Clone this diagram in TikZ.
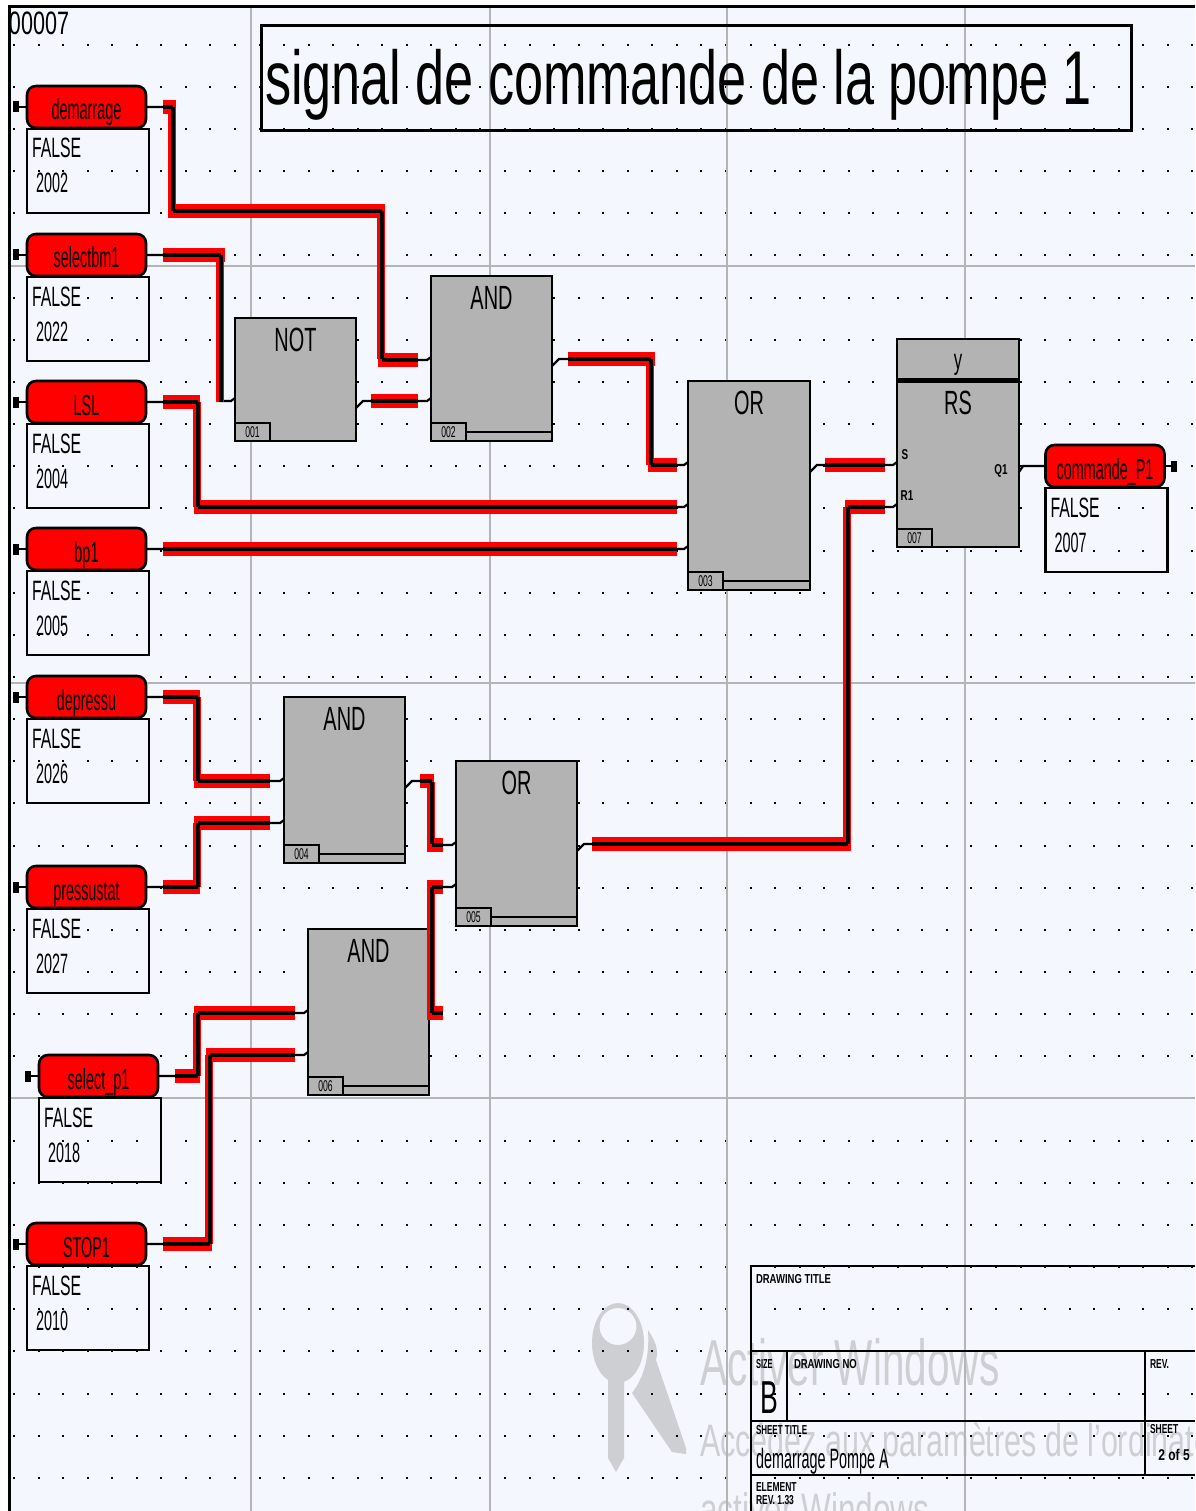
\documentclass[tikz,border=0pt]{standalone}
\usepackage{fontspec}
\setmainfont{Liberation Sans}
\usetikzlibrary{calc}
\pgfdeclarelayer{redband}
\pgfdeclarelayer{corewire}
\pgfsetlayers{main,redband,corewire}
\definecolor{sheet}{HTML}{F4F7FD}
\definecolor{blockgray}{HTML}{B3B3B3}
\definecolor{rule}{HTML}{B4B4B4}
\definecolor{wmark}{HTML}{CDCFD2}
\newcommand\tx[4]{\scalebox{#2}[#3]{\fontsize{#1}{#1}\selectfont #4}}
\tikzset{
  pill/.style={rectangle,rounded corners=9pt,
    draw=black,line width=2.6pt,fill=red,minimum width=119pt,minimum height=42pt,inner sep=0pt,outer sep=0pt,
    text height=30pt,text depth=4pt},
  tagbox/.style={rectangle,draw=black,line width=2.6pt,minimum width=122pt,minimum height=84pt,inner sep=0pt,outer sep=0pt,anchor=north west},
  term/.style={rectangle,fill=black,minimum width=6pt,minimum height=11pt,inner sep=0pt,outer sep=0pt},
  blockbox/.style={rectangle,draw=black,line width=2.6pt,fill=blockgray,inner sep=0pt,outer sep=0pt,anchor=north west},
  idbox/.style={rectangle,draw=black,line width=2.4pt,fill=blockgray,minimum width=35pt,minimum height=18pt,inner sep=0pt,outer sep=0pt,anchor=south west},
  txt/.style={inner sep=0pt,outer sep=0pt},
  conn/.style={draw=black,line width=2.2pt},
  bandh/.style={draw=red,line width=14pt},
  bandv/.style={draw=red,line width=8pt},
  core/.style={draw=black,line width=3.6pt,line cap=square},
  frameline/.style={draw=black,line width=2.6pt},
}
% horizontal band: red from #1 to #2, black core from #3 to #4, at the height of #5
\newcommand\hb[5]{%
  \begin{pgfonlayer}{redband}\draw[bandh] (#1,0 |- #5) -- (#2,0 |- #5);\end{pgfonlayer}%
  \begin{pgfonlayer}{corewire}\draw[core] (#3,0 |- #5) -- (#4,0 |- #5);\end{pgfonlayer}}
% vertical band from y #1 to #2 at the abscissa of #3
\newcommand\vb[3]{%
  \begin{pgfonlayer}{redband}\draw[bandv] ([xshift=-1pt]#3 |- 0,#1) -- ([xshift=-1pt]#3 |- 0,#2);\end{pgfonlayer}%
  \begin{pgfonlayer}{corewire}\draw[core] (#3 |- 0,#1) -- (#3 |- 0,#2);\end{pgfonlayer}}
% input / output pins
\newcommand\pinin[3]{\coordinate (#1) at ([shift={(0,#3)}]#2.north west);\coordinate (#1-w) at ([shift={(-4,3)}]#1);}
\newcommand\pinout[3]{\coordinate (#1) at ([shift={(0,#3)}]#2.north east);\coordinate (#1-w) at ([shift={(7,-7)}]#1);}
% signal: pill + value box
\newcommand\signal[5]{% name, pill centre x, centre y, text, number
  \node[pill] (#1) at (#2,#3) {\tx{20}{.72}{1.45}{#4}};
  \node[tagbox] (#1-box) at ([shift={(-59.5,22)}]#1.center) {};
  \node[txt,fill=sheet,anchor=base west] (#1-val) at ([shift={(5,29)}]#1-box.north west) {\tx{20}{.79}{1.4}{FALSE}};
  \node[txt,fill=sheet,anchor=base west] (#1-num) at ([shift={(9,64)}]#1-box.north west) {\tx{20}{.72}{1.4}{#5}};}
% function block: name, x, y, w, h, label, id
\newcommand\fblock[7]{%
  \node[blockbox,minimum width=#4pt,minimum height=#5pt] (#1) at (#2,#3) {};
  \node[txt,anchor=base] (#1-lbl) at ([shift={(0,33)}]#1.north) {\tx{24}{.83}{1.4}{#6}};
  \node[idbox] (#1-id) at (#1.south west) {\tx{12}{.72}{1.3}{#7}};}
\begin{document}
\begin{tikzpicture}[x=1pt,y=-1pt]
\useasboundingbox (0,0) rectangle (1195,1511);
\clip (0,0) rectangle (1195,1511);
\fill[white] (0,0) rectangle (1195,1511);
\fill[sheet] (9,7) rectangle (1195,1511);
% watermark
\fill[wmark,even odd rule] (618,1343) ellipse (26 and 40) (618,1326.5) ellipse (18.5 and 18.5);
\fill[wmark] (600,1345) rectangle (636,1368);
\fill[wmark] (608,1375) -- (624,1375) -- (624,1458) -- (616,1472) -- (608,1458) -- cycle;
\fill[wmark] (648,1330) .. controls (658,1345) and (658,1352) .. (656,1360)
  -- (686,1448) -- (686,1454) -- (672,1452) -- (632,1393) .. controls (642,1380) and (650,1360) .. cycle;
\node[txt,anchor=base west,text=wmark] (wm1) at (700,1385) {\tx{50}{.81}{1.3}{Activer Windows}};
\node[txt,anchor=base west,text=wmark] (wm2) at (700,1456) {\tx{35}{.87}{1.3}{Accédez aux paramètres de l'ordinateur}};
\node[txt,anchor=base west,text=wmark] (wm3) at (700,1525) {\tx{35}{.9}{1.3}{activer Windows}};
% grid
\foreach \k in {0,...,34}{\foreach \j in {0,...,48}{
  \fill[black] ({14+24.55*\j-1},{44.7+42.15*\k-1}) rectangle ++(2,2);}}
\foreach \x in {251,490,727,965}{\draw[rule,line width=1.6pt] (\x,7) -- (\x,1511);}
\foreach \y in {266,683,1098}{\draw[rule,line width=1.6pt] (9,\y) -- (1195,\y);}
\draw[black,line width=3pt] (9,1511) -- (9,7) -- (1195,7);
% sheet number and title
\node[txt,anchor=base west] (sheetno) at (9,35) {\tx{24}{.9}{1.35}{00007}};
\node[rectangle,draw=black,line width=2.6pt,minimum width=870pt,minimum height=105pt,inner sep=0pt,anchor=north west] (titlebox) at (260,24) {};
\node[txt,anchor=base west] (titletext) at (265,105) {\tx{60}{.87}{1.27}{signal de commande de la pompe 1}};
% signals
\signal{demarrage}{86.5}{107}{demarrage}{2002}
\signal{selectbm}{86.5}{255}{selectbm1}{2022}
\signal{LSL}{86.5}{402}{LSL}{2004}
\signal{bpone}{86.5}{549}{bp1}{2005}
\signal{depressu}{86.5}{697}{depressu}{2026}
\signal{pressustat}{86.5}{887}{pressustat}{2027}
\signal{selectpt}{98.5}{1076}{select\_p1}{2018}
\signal{stopone}{86.5}{1244}{STOP1}{2010}
\signal{commande}{1105}{466}{commande\_P1}{2007}
\foreach \n/\x in {demarrage/16,selectbm/16,LSL/16,bpone/16,depressu/16,pressustat/16,selectpt/28,stopone/16}{
  \node[term] (\n-t) at (\x,0 |- \n.west) {};
  \draw[conn] (\n-t) -- (\n.west);}
\node[term] (commande-t) at (1174,466) {};
\draw[conn] (commande-t) -- (commande.east);
% blocks
\fblock{notb}{235}{318}{121}{123}{NOT}{001}
\fblock{andone}{431}{276}{121}{165}{AND}{002}
\fblock{orone}{688}{381}{122}{209}{OR}{003}
\fblock{rs}{897}{339}{122}{208}{}{007}
\fblock{andtwo}{284}{697}{121}{166}{AND}{004}
\fblock{ortwo}{456}{761}{121}{165}{OR}{005}
\fblock{andthree}{308}{929}{121}{166}{AND}{006}
\foreach \b in {andone,orone,andtwo,ortwo,andthree}{
  \draw[black,line width=2.4pt] ([shift={(35,-9)}]\b.south west) -- ([shift={(0,-9)}]\b.south east);}
\draw[black,line width=5pt] ([yshift=-41pt]rs.north west) -- ([yshift=-41pt]rs.north east);
\node[txt,anchor=base] (rs-y) at ([shift={(0,30)}]rs.north) {\tx{24}{.7}{1.2}{y}};
\node[txt,anchor=base] (rs-lbl2) at ([shift={(0,75)}]rs.north) {\tx{24}{.83}{1.4}{RS}};
\node[txt] (rs-s) at (905,455) {\tx{11}{.9}{1.3}{\bfseries S}};
\node[txt] (rs-r1) at (907,496) {\tx{11}{.9}{1.3}{\bfseries R1}};
\node[txt] (rs-q1) at (1001,471) {\tx{11}{.9}{1.3}{\bfseries Q1}};
% pins
\pinin{notb-a}{notb}{80}\pinout{notb-o}{notb}{90}
\pinin{andone-a}{andone}{81}\pinin{andone-b}{andone}{122}\pinout{andone-o}{andone}{90}
\pinin{orone-a}{orone}{81}\pinin{orone-b}{orone}{123}\pinin{orone-c}{orone}{165}\pinout{orone-o}{orone}{91}
\pinin{rs-sp}{rs}{123}\pinin{rs-rp}{rs}{165}\pinout{rs-qp}{rs}{133}
\pinin{andtwo-a}{andtwo}{81}\pinin{andtwo-b}{andtwo}{123}\pinout{andtwo-o}{andtwo}{91}
\pinin{ortwo-a}{ortwo}{81}\pinin{ortwo-b}{ortwo}{123}\pinout{ortwo-o}{ortwo}{90}
\pinin{andthree-a}{andthree}{81}\pinin{andthree-b}{andthree}{123}
\coordinate (andthree-o) at ([shift={(0,84)}]andthree.north east);
% bends
\coordinate (j1a) at (173,211);\coordinate (j1b) at (382,211);
\coordinate (j2) at (221,300);\coordinate (j3) at (651,400);\coordinate (j4) at (198,450);
\coordinate (j5) at (432,800);\coordinate (j6) at (432,950);\coordinate (j7) at (848,700);
\coordinate (j8) at (198,740);\coordinate (j9) at (198,850);\coordinate (j10) at (198,1040);\coordinate (j11) at (210,1150);
% connectors
\draw[conn] (demarrage.east) -| (j1a) -- (j1b) |- (andone-a-w) -- (andone-a);
\hb{163}{176}{163}{173}{demarrage.east}\vb{107}{211}{j1a}\hb{168}{385}{173}{382}{j1a}\vb{211}{359}{j1b}\hb{378}{418}{382}{418}{andone-a-w}
\draw[conn] (selectbm.east) -| (j2) |- (notb-a-w) -- (notb-a);
\hb{163}{225}{163}{221}{selectbm.east}\vb{255}{402}{j2}
\draw[conn] (notb-o) -- (notb-o-w) -- (andone-b-w) -- (andone-b);
\hb{371}{418}{371}{418}{notb-o-w}
\draw[conn] (andone-o) -- (andone-o-w) -| (j3) |- (orone-a-w) -- (orone-a);
\hb{568}{655}{568}{651}{andone-o-w}\vb{359}{465}{j3}\hb{648}{677}{651}{677}{orone-a-w}
\draw[conn] (LSL.east) -| (j4) |- (orone-b-w) -- (orone-b);
\hb{163}{200}{163}{198}{LSL.east}\vb{402}{507}{j4}\hb{194}{677}{198}{677}{orone-b-w}
\draw[conn] (bpone.east) -- (orone-c-w) -- (orone-c);
\hb{163}{677}{163}{677}{orone-c-w}
\draw[conn] (orone-o) -- (orone-o-w) -- (rs-sp-w) -- (rs-sp);
\hb{825}{885}{825}{885}{orone-o-w}
\draw[conn] (rs-qp) -- ([shift={(4,-6)}]rs-qp) -- (commande.west);
\draw[conn] (depressu.east) -| (j8) |- (andtwo-a-w) -- (andtwo-a);
\hb{163}{200}{163}{198}{depressu.east}\vb{697}{781}{j8}\hb{194}{270}{198}{270}{andtwo-a-w}
\draw[conn] (pressustat.east) -| (j9) |- (andtwo-b-w) -- (andtwo-b);
\hb{163}{200}{163}{198}{pressustat.east}\vb{823}{887}{j9}\hb{194}{270}{198}{270}{andtwo-b-w}
\draw[conn] (selectpt.east) -| (j10) |- (andthree-a-w) -- (andthree-a);
\hb{175}{200}{175}{198}{selectpt.east}\vb{1013}{1076}{j10}\hb{194}{295}{198}{295}{andthree-a-w}
\draw[conn] (stopone.east) -| (j11) |- (andthree-b-w) -- (andthree-b);
\hb{163}{212}{163}{210}{stopone.east}\vb{1055}{1244}{j11}\hb{206}{295}{210}{295}{andthree-b-w}
\draw[conn] (andtwo-o) -- (andtwo-o-w) -| (j5) |- (ortwo-a-w) -- (ortwo-a);
\hb{420}{434}{420}{432}{andtwo-o-w}\vb{782}{844}{j5}\hb{427}{443}{432}{443}{ortwo-a-w}
\draw[conn] (andthree-o) -| (j6) |- (ortwo-b-w) -- (ortwo-b);
\hb{427}{443}{432}{443}{andthree-o}\vb{887}{1013}{j6}\hb{427}{443}{432}{443}{ortwo-b-w}
\draw[conn] (ortwo-o) -- (ortwo-o-w) -| (j7) |- (rs-rp-w) -- (rs-rp);
\hb{592}{851}{592}{848}{ortwo-o-w}\vb{507}{844}{j7}\hb{845}{885}{848}{885}{rs-rp-w}
% title block
\draw[frameline] (1195,1266) -- (751,1266) -- (751,1511);
\draw[frameline] (751,1351) -- (1195,1351);
\draw[frameline] (751,1421) -- (1195,1421);
\draw[frameline] (751,1475) -- (1195,1475);
\draw[frameline] (787,1351) -- (787,1421);
\draw[frameline] (1145,1351) -- (1145,1475);
\node[txt,anchor=west] (tb1) at (756,1279) {\tx{10}{.95}{1.3}{\bfseries DRAWING TITLE}};
\node[txt,anchor=west] (tb2) at (756,1364) {\tx{10}{.75}{1.3}{\bfseries SIZE}};
\node[txt,anchor=west] (tb3) at (794,1364) {\tx{10}{.95}{1.3}{\bfseries DRAWING NO}};
\node[txt,anchor=west] (tb4) at (1150,1364) {\tx{10}{.85}{1.3}{\bfseries REV.}};
\node[txt,anchor=base] (tb5) at (769,1413) {\tx{28}{.95}{1.65}{B}};
\node[txt,anchor=west] (tb6) at (756,1430) {\tx{10}{.8}{1.3}{\bfseries SHEET TITLE}};
\node[txt,anchor=base west] (tb7) at (756,1468) {\tx{20}{.72}{1.4}{demarrage Pompe A}};
\node[txt,anchor=west] (tb8) at (1150,1429) {\tx{10}{.85}{1.3}{\bfseries SHEET}};
\node[txt] (tb9) at (1174,1455) {\tx{12}{1}{1.3}{\bfseries 2 of 5}};
\node[txt,anchor=west] (tb10) at (756,1487) {\tx{10}{.85}{1.3}{\bfseries ELEMENT}};
\node[txt,anchor=west] (tb11) at (756,1500) {\tx{10}{.85}{1.3}{\bfseries REV. 1.33}};
\end{tikzpicture}
\end{document}
